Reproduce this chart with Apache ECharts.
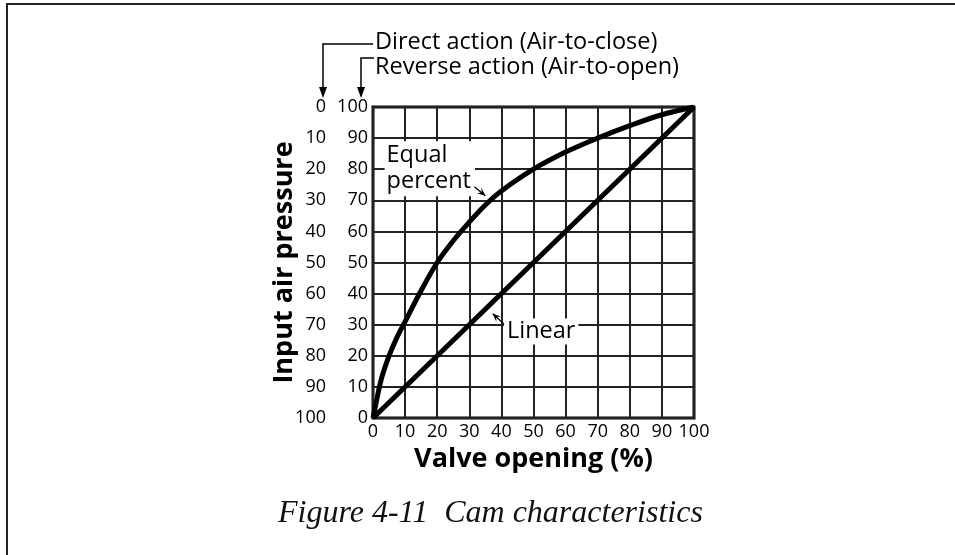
<!DOCTYPE html>
<html>
<head>
<meta charset="utf-8">
<style>
  html, body { margin: 0; padding: 0; background: #fff; }
  #chart { width: 955px; height: 555px; }
</style>
<script src="https://cdn.jsdelivr.net/npm/echarts@6/dist/echarts.min.js"></script>
</head>
<body>
<div id="chart"></div>
<script>
// Valve opening (%) on the x axis
const openingTicks = [0, 10, 20, 30, 40, 50, 60, 70, 80, 90, 100];
// Reverse action (air-to-open) scale, bottom to top
const reverseTicks = [0, 10, 20, 30, 40, 50, 60, 70, 80, 90, 100];
// Direct action (air-to-close) scale, top to bottom
const directTicks = [0, 10, 20, 30, 40, 50, 60, 70, 80, 90, 100];

// Equal percent cam: valve opening vs. input air pressure
const eqOpening  = [0, 1, 2, 3, 5, 7.5, 10, 15, 20, 25, 30, 35, 40, 50, 60, 70, 80, 90, 100];
const eqPressure = [0, 5, 10, 14, 20, 26, 31, 41, 50, 57, 63, 68.5, 73, 80, 85.5, 90, 94, 97.5, 100];

// Linear cam
const linOpening  = [0, 100];
const linPressure = [0, 100];

const FONT = '"Open Sans", "Noto Sans", sans-serif';
const chart = echarts.init(document.getElementById('chart'), null, { renderer: 'canvas' });

const option = {
  backgroundColor: '#fff',
  animation: false,
  title: {
    text: 'Figure 4-11  Cam characteristics',
    left: 273,
    top: 493,
    textStyle: {
      fontFamily: '"Liberation Serif", "DejaVu Serif", serif',
      fontStyle: 'italic',
      fontWeight: 'normal',
      fontSize: 32,
      color: '#111'
    }
  },
  grid: {
    left: 373, top: 107, width: 321, height: 311,
    show: true, borderColor: '#000', borderWidth: 3, backgroundColor: 'transparent'
  },
  xAxis: {
    type: 'value', min: 0, max: 100, interval: 10,
    axisLine: { show: false }, axisTick: { show: false },
    splitLine: { lineStyle: { color: '#222', width: 2 } },
    axisLabel: {
      margin: 5, fontFamily: FONT, fontSize: 18, color: '#000',
      customValues: openingTicks, formatter: v => String(v)
    },
    name: 'Valve opening (%)', nameLocation: 'middle', nameGap: 26,
    nameTextStyle: { fontFamily: FONT, fontWeight: 'bold', fontSize: 27, color: '#000' }
  },
  yAxis: [
    {
      type: 'value', min: 0, max: 100, interval: 10,
      axisLine: { show: false }, axisTick: { show: false },
      splitLine: { lineStyle: { color: '#222', width: 2 } },
      axisLabel: {
        margin: 5, fontFamily: FONT, fontSize: 18, color: '#000',
        formatter: v => reverseTicks.includes(v) ? String(v) : ''
      },
      name: 'Input air pressure', nameLocation: 'middle', nameGap: 75, nameRotate: 90,
      nameTextStyle: { fontFamily: FONT, fontWeight: 'bold', fontSize: 27, color: '#000' }
    },
    {
      type: 'value', min: 0, max: 100, interval: 10, inverse: true,
      position: 'left', offset: 41,
      axisLine: { show: false }, axisTick: { show: false }, splitLine: { show: false },
      axisLabel: {
        margin: 6, fontFamily: FONT, fontSize: 18, color: '#000',
        formatter: v => directTicks.includes(v) ? String(v) : ''
      }
    }
  ],
  series: [
    {
      name: 'Equal percent', type: 'line', smooth: 0.35, symbol: 'none',
      lineStyle: { color: '#000', width: 5 },
      data: eqOpening.map((x, i) => [x, eqPressure[i]]),
      z: 5
    },
    {
      name: 'Linear', type: 'line', symbol: 'none',
      lineStyle: { color: '#000', width: 5 },
      data: linOpening.map((x, i) => [x, linPressure[i]]),
      z: 5
    }
  ]
};
chart.setOption(option);

// Annotation helpers: pixel positions come from the grid's own scales
const px = (x, y) => chart.convertToPixel({ xAxisIndex: 0, yAxisIndex: 0 }, [x, y]);

function arrowHead(tip, from, len, half) {
  const dx = tip[0] - from[0], dy = tip[1] - from[1];
  const d = Math.hypot(dx, dy) || 1;
  const ux = dx / d, uy = dy / d;
  const bx = tip[0] - ux * len, by = tip[1] - uy * len;
  return {
    type: 'polygon', z: 20,
    shape: { points: [tip, [bx - uy * half, by + ux * half], [tip[0] - ux * len * 0.6, tip[1] - uy * len * 0.6], [bx + uy * half, by - ux * half]] },
    style: { fill: '#000' }
  };
}

function pointer(from, tip) {
  return [
    { type: 'line', z: 20, shape: { x1: from[0], y1: from[1], x2: tip[0], y2: tip[1] }, style: { stroke: '#000', lineWidth: 1.3 } },
    arrowHead(tip, from, 8, 3.5)
  ];
}

const eqTip = px(35, 71.5);
const eqFrom = [eqTip[0] - 11, eqTip[1] - 9];
const linTip = px(37.3, 33.5);
const linFrom = [linTip[0] + 11, linTip[1] + 10];
const eqText = px(3.6, 89);
const linText = px(52.4, 27.8);

const frameColor = '#222';
const graphics = [
  // page frame (left and top edges)
  { type: 'line', shape: { x1: 7, y1: 4, x2: 7, y2: 555 }, style: { stroke: frameColor, lineWidth: 2 } },
  { type: 'line', shape: { x1: 6, y1: 4, x2: 955, y2: 4 }, style: { stroke: frameColor, lineWidth: 2 } },

  // scale direction callouts
  { type: 'text', left: 375, top: 30, style: { text: 'Direct action (Air-to-close)', font: '23.5px ' + FONT, fill: '#000' } },
  { type: 'text', left: 375, top: 55, style: { text: 'Reverse action (Air-to-open)', font: '23.5px ' + FONT, fill: '#000' } },
  { type: 'polyline', shape: { points: [[373, 44], [323, 44], [323, 90]] }, style: { stroke: '#000', lineWidth: 1.5, fill: null } },
  { type: 'polyline', shape: { points: [[374, 58], [361, 58], [361, 90]] }, style: { stroke: '#000', lineWidth: 1.5, fill: null } },
  { type: 'polygon', shape: { points: [[319, 87], [327, 87], [323, 98]] }, style: { fill: '#000' } },
  { type: 'polygon', shape: { points: [[357, 87], [365, 87], [361, 98]] }, style: { fill: '#000' } },

  // curve labels
  {
    type: 'text', z: 15, x: eqText[0], y: eqText[1],
    style: {
      text: 'Equal\npercent', font: '23.5px ' + FONT, fill: '#000', lineHeight: 26,
      backgroundColor: '#fff', padding: [1, 4, 2, 2], align: 'left', verticalAlign: 'top'
    }
  },
  {
    type: 'text', z: 15, x: linText[0], y: linText[1],
    style: {
      text: 'Linear', font: '23.5px ' + FONT, fill: '#000',
      backgroundColor: '#fff', padding: [1, 3, 1, 3], align: 'center', verticalAlign: 'middle'
    }
  }
].concat(pointer(eqFrom, eqTip), pointer(linFrom, linTip));

chart.setOption({ graphic: graphics });
</script>
</body>
</html>
